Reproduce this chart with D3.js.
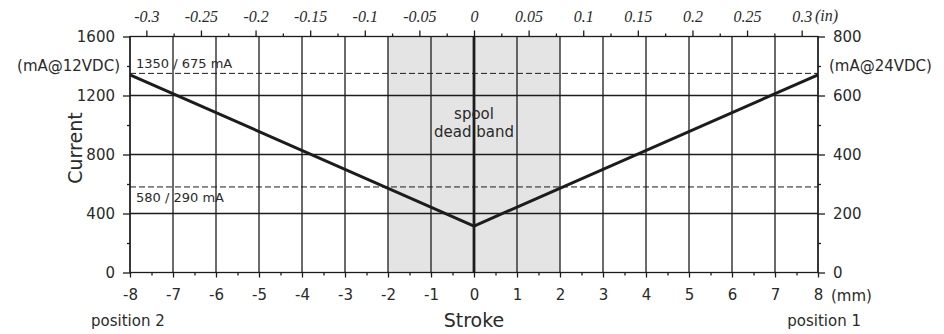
<!DOCTYPE html>
<html>
<head>
<meta charset="utf-8">
<script src="https://cdn.jsdelivr.net/npm/d3@7/dist/d3.min.js"></script>
<style>
  html, body { margin: 0; padding: 0; background: #ffffff; }
  svg { display: block; }
  .sans { font-family: "DejaVu Sans", Verdana, sans-serif; fill: #2a2a2a; }
  .serif { font-family: "Liberation Serif", "Times New Roman", serif; font-style: italic; fill: #2a2a2a; }
</style>
</head>
<body>
<svg id="chart" width="944" height="334"></svg>
<script>
// Current vs. spool stroke
const strokeMm = [-8, 0, 8];
const currentMa = [1340, 315, 1340];

const deadBand = [-2, 2];
const thresholdLevels = [1350, 580];
const thresholdLabels = ["1350 / 675 mA", "580 / 290 mA"];

const mmTicks = [-8, -7, -6, -5, -4, -3, -2, -1, 0, 1, 2, 3, 4, 5, 6, 7, 8];
const mmMinorTicks = [-7.5, -6.5, -5.5, -4.5, -3.5, -2.5, -1.5, -0.5, 0.5, 1.5, 2.5, 3.5, 4.5, 5.5, 6.5, 7.5];
const inchTicks = [-0.3, -0.25, -0.2, -0.15, -0.1, -0.05, 0, 0.05, 0.1, 0.15, 0.2, 0.25, 0.3];
const inchMinorTicks = [-0.275, -0.225, -0.175, -0.125, -0.075, -0.025, 0.025, 0.075, 0.125, 0.175, 0.225, 0.275];
const current12Ticks = [0, 400, 800, 1200, 1600];
const current12Minor = [200, 600, 1000, 1400];
const current24Ticks = [0, 200, 400, 600, 800];
const current24Minor = [100, 300, 500, 700];
const gridCurrent = [400, 800, 1200];

const svg = d3.select("#chart");
const ink = "#1c1c1c";

const x = d3.scaleLinear().domain([-8, 8]).range([130, 818]);
const xIn = d3.scaleLinear().domain([-8 / 25.4, 8 / 25.4]).range([130, 818]);
const y = d3.scaleLinear().domain([0, 1600]).range([272.5, 36.5]);
const y24 = d3.scaleLinear().domain([0, 800]).range([272.5, 36.5]);

// dead band shading
svg.append("rect")
  .attr("x", x(deadBand[0])).attr("y", y(1600))
  .attr("width", x(deadBand[1]) - x(deadBand[0]))
  .attr("height", y(0) - y(1600))
  .attr("fill", "#e4e4e4");

// grid
svg.append("g").selectAll("line").data(mmTicks.filter(d => d !== 0)).join("line")
  .attr("x1", d => x(d)).attr("x2", d => x(d))
  .attr("y1", y(0)).attr("y2", y(1600))
  .attr("stroke", ink).attr("stroke-width", 1.3);
svg.append("g").selectAll("line").data(gridCurrent).join("line")
  .attr("x1", x(-8)).attr("x2", x(8))
  .attr("y1", d => y(d)).attr("y2", d => y(d))
  .attr("stroke", ink).attr("stroke-width", 1.3);

// threshold levels
svg.append("g").selectAll("line").data(thresholdLevels).join("line")
  .attr("x1", x(-8)).attr("x2", x(8))
  .attr("y1", d => y(d)).attr("y2", d => y(d))
  .attr("stroke", ink).attr("stroke-width", 1)
  .attr("stroke-dasharray", "6,3");
svg.append("text").attr("class", "sans").attr("font-size", 13)
  .attr("x", 136).attr("y", y(thresholdLevels[0]) - 5)
  .text(thresholdLabels[0]);
svg.append("text").attr("class", "sans").attr("font-size", 13)
  .attr("x", 136).attr("y", y(thresholdLevels[1]) + 15)
  .text(thresholdLabels[1]);

// centre line
svg.append("line")
  .attr("x1", x(0)).attr("x2", x(0)).attr("y1", y(0)).attr("y2", y(1600))
  .attr("stroke", ink).attr("stroke-width", 2.8);

// current curve
svg.append("path")
  .datum(strokeMm.map((s, i) => [s, currentMa[i]]))
  .attr("d", d3.line().x(d => x(d[0])).y(d => y(d[1])))
  .attr("fill", "none").attr("stroke", ink).attr("stroke-width", 3);

// dead band label
svg.append("text").attr("class", "sans").attr("font-size", 15)
  .attr("text-anchor", "middle").attr("x", x(0)).attr("y", 119).text("spool");
svg.append("text").attr("class", "sans").attr("font-size", 15)
  .attr("text-anchor", "middle").attr("x", x(0)).attr("y", 137).text("dead band");

// frame
svg.append("rect")
  .attr("x", x(-8)).attr("y", y(1600))
  .attr("width", x(8) - x(-8)).attr("height", y(0) - y(1600))
  .attr("fill", "none").attr("stroke", ink).attr("stroke-width", 1.3);

function styleAxis(g, cls, size) {
  g.select(".domain").remove();
  g.selectAll(".tick line").attr("stroke", ink).attr("stroke-width", 1.3);
  g.selectAll(".tick text").attr("class", cls).attr("font-size", size)
    .attr("font-family", null).attr("fill", "#2a2a2a");
}

// left axis (12 VDC)
svg.append("g").attr("transform", `translate(${x(-8)},0)`)
  .call(d3.axisLeft(y).tickValues(current12Ticks).tickSize(7).tickPadding(8).tickFormat(d => String(d)))
  .call(g => styleAxis(g, "sans", 15));
svg.append("g").attr("transform", `translate(${x(-8)},0)`)
  .call(d3.axisLeft(y).tickValues(current12Minor).tickSize(3).tickPadding(7)
    .tickFormat(d => d === 1400 ? "(mA@12VDC)" : ""))
  .call(g => styleAxis(g, "sans", 15));

// right axis (24 VDC)
svg.append("g").attr("transform", `translate(${x(8)},0)`)
  .call(d3.axisRight(y24).tickValues(current24Ticks).tickSize(7).tickPadding(8).tickFormat(d => String(d)))
  .call(g => styleAxis(g, "sans", 15));
svg.append("g").attr("transform", `translate(${x(8)},0)`)
  .call(d3.axisRight(y24).tickValues(current24Minor).tickSize(3).tickPadding(8)
    .tickFormat(d => d === 700 ? "(mA@24VDC)" : ""))
  .call(g => styleAxis(g, "sans", 15));

// bottom axis (mm)
svg.append("g").attr("transform", `translate(0,${y(0)})`)
  .call(d3.axisBottom(x).tickValues(mmTicks).tickSize(5).tickPadding(12).tickFormat(d => String(d)))
  .call(g => styleAxis(g, "sans", 15));
svg.append("g").attr("transform", `translate(0,${y(0)})`)
  .call(d3.axisBottom(x).tickValues(mmMinorTicks).tickSize(3).tickFormat(""))
  .call(g => styleAxis(g, "sans", 15));

// top axis (inches)
svg.append("g").attr("transform", `translate(0,${y(1600)})`)
  .call(d3.axisTop(xIn).tickValues(inchTicks).tickSize(6).tickPadding(9).tickFormat(d => String(d)))
  .call(g => styleAxis(g, "serif", 16));
svg.append("g").attr("transform", `translate(0,${y(1600)})`)
  .call(d3.axisTop(xIn).tickValues(inchMinorTicks).tickSize(3).tickFormat(""))
  .call(g => styleAxis(g, "serif", 16));

// unit and axis titles
svg.append("text").attr("class", "serif").attr("font-size", 16)
  .attr("x", 815).attr("y", 21).text("(in)");
svg.append("text").attr("class", "sans").attr("font-size", 15)
  .attr("x", 831).attr("y", 301).text("(mm)");
svg.append("text").attr("class", "sans").attr("font-size", 19)
  .attr("text-anchor", "middle")
  .attr("transform", "translate(82,148) rotate(-90)").text("Current");
svg.append("text").attr("class", "sans").attr("font-size", 19)
  .attr("text-anchor", "middle").attr("x", x(0)).attr("y", 327).text("Stroke");
svg.append("text").attr("class", "sans").attr("font-size", 15)
  .attr("x", 91).attr("y", 326).text("position 2");
svg.append("text").attr("class", "sans").attr("font-size", 15)
  .attr("text-anchor", "end").attr("x", 861).attr("y", 326).text("position 1");
</script>
</body>
</html>
